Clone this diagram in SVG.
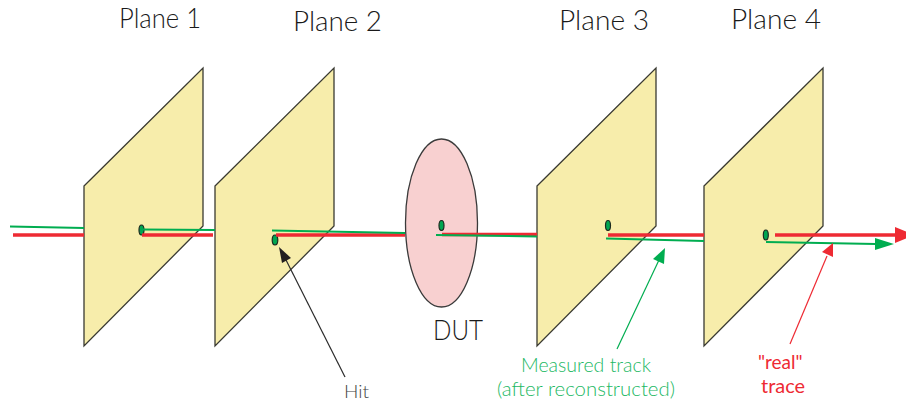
<svg xmlns="http://www.w3.org/2000/svg" width="906" height="404" viewBox="0 0 906 404">
<style>
.plane{fill:#f7edab;stroke:#3a3a32;stroke-width:1.3}
.hit{fill:#00a651;stroke:#1c2a20;stroke-width:1.2}
.r{stroke:#ee2a33;stroke-width:3.4;fill:none}
.g{stroke:#00ad50;stroke-width:2;fill:none}
text{font-family:"Lato","Liberation Sans",sans-serif;font-weight:300}
.t{font-size:27px;fill:#1a1a1a}
.gt{font-size:19px;fill:#1cb863}
.rt{font-size:19px;fill:#ee2a33;font-weight:400}
</style>
<defs>
<path id="pl" class="plane" d="M0 118L119 0V158L116 161L0 278Z"/>
</defs>
<g id="plane1"><use href="#pl" x="84" y="68"/><ellipse class="hit" cx="141.500" cy="230" rx="2.500" ry="5"/><text class="t" x="119" y="28" textLength="82" lengthAdjust="spacingAndGlyphs">Plane 1</text></g>
<g id="plane2"><use href="#pl" x="215" y="68"/><ellipse class="hit" cx="275" cy="240" rx="2.800" ry="5"/><text class="t" x="293" y="31" textLength="89" lengthAdjust="spacingAndGlyphs">Plane 2</text></g>
<g id="dut"><ellipse cx="441.500" cy="223" rx="36" ry="84" fill="#f8d0d0" stroke="#3a3a3a" stroke-width="1.300"/><ellipse class="hit" cx="441.500" cy="225.500" rx="2.500" ry="5"/><text class="t" x="433" y="340" textLength="50" lengthAdjust="spacingAndGlyphs">DUT</text></g>
<g id="plane3"><use href="#pl" x="537" y="68"/><ellipse class="hit" cx="608" cy="225.500" rx="2.500" ry="5"/><text class="t" x="559" y="30" textLength="90" lengthAdjust="spacingAndGlyphs">Plane 3</text></g>
<g id="plane4"><use href="#pl" x="704" y="68"/><ellipse class="hit" cx="765.800" cy="235" rx="2.500" ry="5"/><text class="t" x="731" y="29" textLength="90" lengthAdjust="spacingAndGlyphs">Plane 4</text></g>
<g id="connectors">
<path class="g" d="M10 226.500L84 228"/><path class="r" d="M13 235H84"/>
<path class="r" d="M142 235H213"/><path class="g" d="M143 229.500L215 230"/>
<path class="r" d="M276 235H405"/><path class="g" d="M272 230.500L405 233"/>
<path class="r" d="M442 234.500L537 234.500"/><path class="g" d="M436 235L537 236.500"/>
<path class="r" d="M608 235H704"/><path class="g" d="M606 238.500L704 241"/>
<path class="r" d="M775 235H896" stroke-width="4"/><path d="M895 227L915 235L895 243Z" fill="#ee2a33"/>
<path class="g" d="M766 242L876 244"/><path d="M875 238L894 244L875 250Z" fill="#00ad50"/>
<path d="M345 377L285 258" stroke="#2b2b2b" stroke-width="1.200" fill="none"/><path d="M279 247L291 258L282 263Z" fill="#231f20"/>
<path d="M617 349L659 260" stroke="#00ad50" stroke-width="1.200" fill="none"/><path d="M665 248L664 264L653 259Z" fill="#00ad50"/>
<path d="M790 344L827 256" stroke="#ee2a33" stroke-width="1.200" fill="none"/><path d="M833 243L833 257L822 252Z" fill="#ee2a33"/>
</g>
<g id="labels">
<text x="344" y="398" font-size="17" fill="#444" textLength="25" lengthAdjust="spacingAndGlyphs">Hit</text>
<text class="gt" x="521" y="372" textLength="130" lengthAdjust="spacingAndGlyphs">Measured track</text>
<text class="gt" x="497" y="396" textLength="178" lengthAdjust="spacingAndGlyphs">(after reconstructed)</text>
<text class="rt" x="758" y="369">"real"</text>
<text class="rt" x="761" y="393" textLength="44" lengthAdjust="spacingAndGlyphs">trace</text>
</g>
</svg>
